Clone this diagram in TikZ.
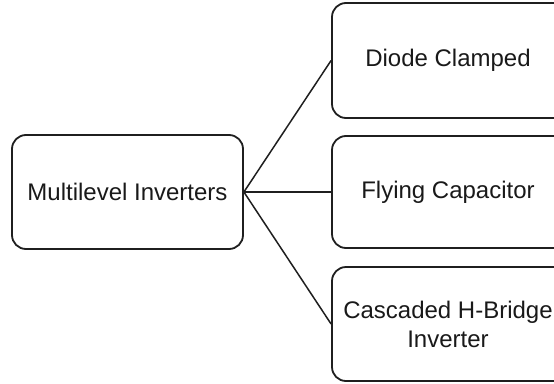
\documentclass[tikz,border=0pt]{standalone}
\usepackage{fontspec}
\setmainfont{Liberation Sans}
\begin{document}
\begin{tikzpicture}[x=1pt,y=-1pt,
  box/.style={draw=black!88, line width=1.8pt, rounded corners=14pt, inner sep=0pt},
  lbl/.style={font=\fontsize{24}{29}\selectfont, text=black!90, align=center, inner sep=0pt},
  link/.style={draw=black!88, line width=1.5pt}]
\useasboundingbox (0,0) rectangle (554,383);
\clip (0,0) rectangle (554,383);
% root category
\node[box, lbl, minimum width=231pt, minimum height=114pt] (root) at (127.5,192) {Multilevel Inverters};
% three inverter families (right side runs past the frame)
\node[box, minimum width=240pt, minimum height=115pt] (dc) at (452,60.5) {};
\node[box, minimum width=240pt, minimum height=112pt] (fc) at (452,192) {};
\node[box, minimum width=240pt, minimum height=114pt] (ch) at (452,324) {};
\node[lbl] (dct) at ([xshift=-4pt]dc.center) {Diode Clamped};
\node[lbl] (fct) at ([xshift=-4pt]fc.center) {Flying Capacitor};
\node[lbl] (cht) at ([xshift=-4pt]ch.center) {Cascaded H-Bridge\\Inverter};
% connectors
\draw[link] (root.east) -- (dc.west);
\draw[link] (root.east) -- (fc.west);
\draw[link] (root.east) -- (ch.west);
\end{tikzpicture}
\end{document}
